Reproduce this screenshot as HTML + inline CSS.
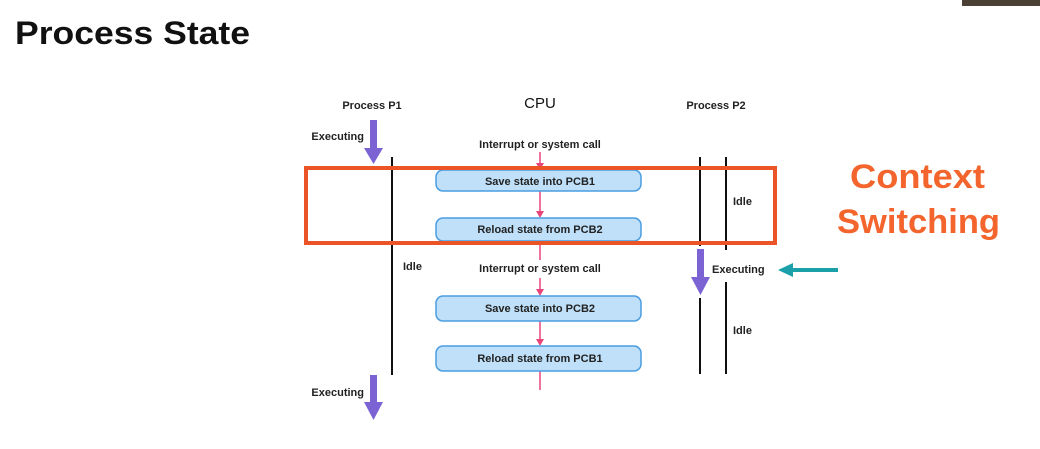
<!DOCTYPE html>
<html><head><meta charset="utf-8"><style>
html,body{margin:0;padding:0;background:#fff;}
svg{display:block;}
text{font-family:"Liberation Sans",sans-serif;}
</style></head><body>
<svg width="1040" height="449" viewBox="0 0 1040 449" xmlns="http://www.w3.org/2000/svg">
<rect x="962" y="0" width="78" height="6" fill="#4a4034"/>
<text x="15" y="44" font-size="32" font-weight="bold" fill="#111" textLength="235" lengthAdjust="spacingAndGlyphs">Process State</text>
<text x="372" y="109" font-size="11" font-weight="bold" fill="#222" text-anchor="middle">Process P1</text>
<text x="540" y="108" font-size="15" fill="#111" text-anchor="middle">CPU</text>
<text x="716" y="109" font-size="11" font-weight="bold" fill="#222" text-anchor="middle">Process P2</text>
<!-- P1 -->
<rect x="370" y="120" width="7" height="29" fill="#7b63d4"/>
<path d="M364,148 L383,148 L373.5,164 Z" fill="#7b63d4"/>
<text x="364" y="140" font-size="11" font-weight="bold" fill="#222" text-anchor="end">Executing</text>
<line x1="392" y1="157" x2="392" y2="375" stroke="#111" stroke-width="2"/>
<text x="403" y="270" font-size="11" font-weight="bold" fill="#222">Idle</text>
<rect x="370" y="375" width="7" height="28" fill="#7b63d4"/>
<path d="M364,402 L383,402 L373.5,420 Z" fill="#7b63d4"/>
<text x="364" y="396" font-size="11" font-weight="bold" fill="#222" text-anchor="end">Executing</text>
<!-- CPU -->
<g stroke="#e8457a" stroke-width="1.5">
<line x1="540" y1="152" x2="540" y2="164"/>
<line x1="540" y1="191" x2="540" y2="212"/>
<line x1="540" y1="241" x2="540" y2="260"/>
<line x1="540" y1="278" x2="540" y2="290"/>
<line x1="540" y1="321" x2="540" y2="340"/>
<line x1="540" y1="371" x2="540" y2="390"/>
</g>
<g fill="#e8457a">
<path d="M536,163 L544,163 L540,170 Z"/>
<path d="M536,211 L544,211 L540,218 Z"/>
<path d="M536,289 L544,289 L540,296 Z"/>
<path d="M536,339 L544,339 L540,346 Z"/>
</g>
<text x="540" y="148" font-size="11" font-weight="bold" fill="#222" text-anchor="middle">Interrupt or system call</text>
<rect x="436" y="170" width="205" height="21" rx="7" fill="#bfe0f8" stroke="#4a9de0" stroke-width="1.5"/>
<text x="540" y="185" font-size="11" font-weight="bold" fill="#222" text-anchor="middle">Save state into PCB1</text>
<rect x="436" y="218" width="205" height="23" rx="7" fill="#bfe0f8" stroke="#4a9de0" stroke-width="1.5"/>
<text x="540" y="233" font-size="11" font-weight="bold" fill="#222" text-anchor="middle">Reload state from PCB2</text>
<text x="540" y="272" font-size="11" font-weight="bold" fill="#222" text-anchor="middle">Interrupt or system call</text>
<rect x="436" y="296" width="205" height="25" rx="7" fill="#bfe0f8" stroke="#4a9de0" stroke-width="1.5"/>
<text x="540" y="312" font-size="11" font-weight="bold" fill="#222" text-anchor="middle">Save state into PCB2</text>
<rect x="436" y="346" width="205" height="25" rx="7" fill="#bfe0f8" stroke="#4a9de0" stroke-width="1.5"/>
<text x="540" y="362" font-size="11" font-weight="bold" fill="#222" text-anchor="middle">Reload state from PCB1</text>
<!-- P2 -->
<line x1="700" y1="157" x2="700" y2="246" stroke="#111" stroke-width="2"/>
<line x1="726" y1="157" x2="726" y2="250" stroke="#111" stroke-width="2"/>
<text x="733" y="205" font-size="11" font-weight="bold" fill="#222">Idle</text>
<rect x="697" y="249" width="7" height="30" fill="#7b63d4"/>
<path d="M691,277 L710,277 L700.5,295 Z" fill="#7b63d4"/>
<text x="712" y="273" font-size="11" font-weight="bold" fill="#222">Executing</text>
<line x1="726" y1="282" x2="726" y2="374" stroke="#111" stroke-width="2"/>
<line x1="700" y1="298" x2="700" y2="374" stroke="#111" stroke-width="2"/>
<text x="733" y="334" font-size="11" font-weight="bold" fill="#222">Idle</text>
<rect x="790" y="268" width="48" height="4" fill="#1aa0a8"/>
<path d="M778,270 L793,263 L793,277 Z" fill="#1aa0a8"/>
<!-- Orange -->
<rect x="306" y="168" width="469" height="75" fill="none" stroke="#ea5426" stroke-width="4"/>
<text x="850" y="188" font-size="34" font-weight="bold" fill="#f4652e" textLength="135" lengthAdjust="spacingAndGlyphs">Context</text>
<text x="837" y="233" font-size="34" font-weight="bold" fill="#f4652e" textLength="163" lengthAdjust="spacingAndGlyphs">Switching</text>
</svg>
</body></html>
